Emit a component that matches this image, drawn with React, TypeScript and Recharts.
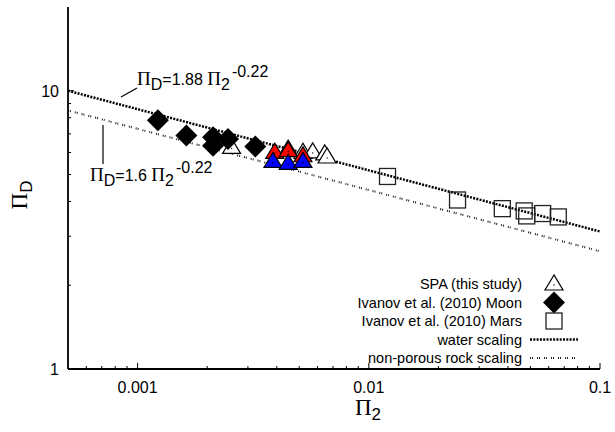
import { ComposedChart, Scatter, Line, XAxis, YAxis, Legend } from "recharts"

// Pi_2 / Pi_D values
const spaPi2 = [0.00255, 0.00448, 0.00519, 0.00572, 0.00645, 0.0066]
const spaPiD = [6.26, 6.17, 6.01, 6.03, 5.93, 5.78]
const spaRedPi2 = [0.00392, 0.00448, 0.00519]
const spaRedPiD = [6.01, 6.09, 5.84]
const spaBluePi2 = [0.00385, 0.00448, 0.00519]
const spaBluePiD = [5.57, 5.48, 5.57]
const moonPi2 = [0.001224, 0.001625, 0.00212, 0.00212, 0.00246, 0.00323]
const moonPiD = [7.83, 6.91, 6.8, 6.35, 6.71, 6.3]
const marsPi2 = [0.01205, 0.0242, 0.0378, 0.047, 0.0482, 0.0565, 0.066]
const marsPiD = [4.92, 4.05, 3.77, 3.7, 3.55, 3.62, 3.52]
// scaling lines, end points at the edges of the x range
const linePi2 = [0.0005, 0.1]
const waterPiD = [10.0, 3.12]
const rockPiD = [8.5, 2.65]

const xTicks = [
  0.0006, 0.0007, 0.0008, 0.0009, 0.001, 0.002, 0.003, 0.004, 0.005, 0.006, 0.007, 0.008, 0.009,
  0.01, 0.02, 0.03, 0.04, 0.05, 0.06, 0.07, 0.08, 0.09, 0.1,
]
const xLabelled = [0.001, 0.01, 0.1]
const yTicks = [1, 2, 3, 4, 5, 6, 7, 8, 9, 10]
const yLabelled = [1, 10]

const toPoints = (xs: number[], ys: number[]) => xs.map((x, i) => ({ x, y: ys[i] }))

const sans = "Liberation Sans, Arial, sans-serif"
const serif = "Liberation Serif, Times New Roman, serif"

const TriangleShape = (props: any) => {
  const { cx, cy, fill } = props
  return (
    <g>
      <polygon
        points={`${cx},${cy - 9} ${cx - 9},${cy + 6} ${cx + 9},${cy + 6}`}
        fill={fill}
        stroke="#000"
        strokeWidth={1.2}
      />
      <circle cx={cx} cy={cy + 1} r={0.7} fill="#000" />
    </g>
  )
}

const DiamondShape = (props: any) => {
  const { cx, cy } = props
  return <polygon points={`${cx},${cy - 11} ${cx + 11},${cy} ${cx},${cy + 11} ${cx - 11},${cy}`} fill="#000" />
}

const SquareShape = (props: any) => {
  const { cx, cy } = props
  return <rect x={cx - 8} y={cy - 8} width={16} height={16} fill="none" stroke="#222" strokeWidth={1.3} />
}

const BottomTick = (props: any) => {
  const { x, y, payload } = props
  const major = xLabelled.includes(payload.value)
  return (
    <g>
      <line x1={x} y1={y} x2={x} y2={y - (major ? 6 : 3)} stroke="#000" />
      {major && (
        <text x={x} y={y + 24} textAnchor="middle" fontSize={16} fontFamily={sans} fill="#000">
          {payload.value}
        </text>
      )}
    </g>
  )
}

const TopTick = (props: any) => {
  const { x, y, payload } = props
  const major = xLabelled.includes(payload.value)
  return <line x1={x} y1={y} x2={x} y2={y + (major ? 6 : 3)} stroke="#000" />
}

const LeftTick = (props: any) => {
  const { x, y, payload } = props
  const major = yLabelled.includes(payload.value)
  return (
    <g>
      <line x1={x} y1={y} x2={x + (major ? 6 : 3)} y2={y} stroke="#000" />
      {major && (
        <text x={x - 9} y={y + 6} textAnchor="end" fontSize={16} fontFamily={sans} fill="#000">
          {payload.value}
        </text>
      )}
    </g>
  )
}

const RightTick = (props: any) => {
  const { x, y, payload } = props
  const major = yLabelled.includes(payload.value)
  return <line x1={x} y1={y} x2={x - (major ? 6 : 3)} y2={y} stroke="#000" />
}

const legendRows = [
  { label: "SPA (this study)", kind: "triangle" },
  { label: "Ivanov et al. (2010) Moon", kind: "diamond" },
  { label: "Ivanov et al. (2010) Mars", kind: "square" },
  { label: "water scaling", kind: "water" },
  { label: "non-porous rock scaling", kind: "rock" },
]

const LegendBox = () => (
  <svg width={260} height={96}>
    {legendRows.map((r, i) => {
      const cy = 12 + i * 18.5
      return (
        <g key={r.label}>
          <text x={182} y={cy + 5} textAnchor="end" fontSize={14.5} fontFamily={sans} fill="#000">
            {r.label}
          </text>
          {r.kind === "triangle" && <TriangleShape cx={214} cy={cy} fill="#fff" />}
          {r.kind === "diamond" && <DiamondShape cx={214} cy={cy} />}
          {r.kind === "square" && <SquareShape cx={214} cy={cy} />}
          {r.kind === "water" && (
            <line x1={190} y1={cy} x2={238} y2={cy} stroke="#000" strokeWidth={2.5} strokeDasharray="2 1.3" />
          )}
          {r.kind === "rock" && (
            <line x1={190} y1={cy} x2={238} y2={cy} stroke="#222" strokeWidth={2} strokeDasharray="1 1 1 4" />
          )}
        </g>
      )
    })}
  </svg>
)

export default function App() {
  return (
    <div style={{ position: "absolute", left: 0, top: 0, width: 615, height: 432, background: "#fff" }}>
      <ComposedChart width={615} height={432} margin={{ top: 7, right: 15, bottom: 0, left: 0 }}>
        <XAxis
          xAxisId="x"
          dataKey="x"
          type="number"
          scale="log"
          domain={[0.0005, 0.1]}
          allowDataOverflow
          ticks={xTicks}
          interval={0}
          height={63}
          tickSize={0}
          tickMargin={0}
          tickLine={false}
          tick={BottomTick}
          axisLine={{ stroke: "#000", strokeWidth: 1.8 }}
        />
        <XAxis
          xAxisId="top"
          orientation="top"
          mirror
          type="number"
          scale="log"
          domain={[0.0005, 0.1]}
          allowDataOverflow
          ticks={xTicks}
          interval={0}
          height={0}
          tickSize={0}
          tickMargin={0}
          tickLine={false}
          tick={TopTick}
          axisLine={{ stroke: "#000", strokeWidth: 1.8 }}
        />
        <YAxis
          yAxisId="y"
          dataKey="y"
          type="number"
          scale="log"
          domain={[1, 20]}
          allowDataOverflow
          ticks={yTicks}
          interval={0}
          width={68}
          tickSize={0}
          tickMargin={0}
          tickLine={false}
          tick={LeftTick}
          axisLine={{ stroke: "#000", strokeWidth: 1.8 }}
        />
        <YAxis
          yAxisId="right"
          orientation="right"
          mirror
          type="number"
          scale="log"
          domain={[1, 20]}
          allowDataOverflow
          ticks={yTicks}
          interval={0}
          width={0}
          tickSize={0}
          tickMargin={0}
          tickLine={false}
          tick={RightTick}
          axisLine={{ stroke: "#000", strokeWidth: 1.8 }}
        />
        <Line
          xAxisId="x"
          yAxisId="y"
          data={toPoints(linePi2, rockPiD)}
          dataKey="y"
          stroke="#222"
          strokeWidth={2}
          strokeDasharray="1 1 1 4"
          dot={false}
          isAnimationActive={false}
        />
        <Line
          xAxisId="x"
          yAxisId="y"
          data={toPoints(linePi2, waterPiD)}
          dataKey="y"
          stroke="#000"
          strokeWidth={2.5}
          strokeDasharray="2 1.3"
          dot={false}
          isAnimationActive={false}
        />
        <Scatter xAxisId="x" yAxisId="y" data={toPoints(spaPi2, spaPiD)} fill="#fff" shape={TriangleShape} isAnimationActive={false} />
        <Scatter xAxisId="x" yAxisId="y" data={toPoints(spaRedPi2, spaRedPiD)} fill="#ff0000" shape={TriangleShape} isAnimationActive={false} />
        <Scatter xAxisId="x" yAxisId="y" data={toPoints(spaBluePi2, spaBluePiD)} fill="#0000ff" shape={TriangleShape} isAnimationActive={false} />
        <Scatter xAxisId="x" yAxisId="y" data={toPoints(moonPi2, moonPiD)} fill="#000" shape={DiamondShape} isAnimationActive={false} />
        <Scatter xAxisId="x" yAxisId="y" data={toPoints(marsPi2, marsPiD)} fill="none" shape={SquareShape} isAnimationActive={false} />
        <Legend
          layout="vertical"
          align="center"
          verticalAlign="middle"
          content={() => <LegendBox />}
          wrapperStyle={{ left: 340, top: 272, width: 260, height: 96 }}
        />
      </ComposedChart>
      <svg
        width={615}
        height={432}
        style={{ position: "absolute", left: 0, top: 0, pointerEvents: "none" }}
      >
        <line x1={121} y1={97} x2={137} y2={88} stroke="#000" strokeWidth={1.2} />
        <text x={137} y={85} fontSize={16} fontFamily={sans} fill="#000">
          <tspan fontFamily={serif} fontSize={19}>Π</tspan>
          <tspan dy={5}>D</tspan>
          <tspan dy={-5}>=1.88 </tspan>
          <tspan fontFamily={serif} fontSize={19}>Π</tspan>
          <tspan dy={5}>2</tspan>
          <tspan dy={-13} dx={2}>-0.22</tspan>
        </text>
        <line x1={103} y1={125} x2={103} y2={164} stroke="#000" strokeWidth={1.2} />
        <text x={90} y={181} fontSize={16} fontFamily={sans} fill="#000">
          <tspan fontFamily={serif} fontSize={19}>Π</tspan>
          <tspan dy={5}>D</tspan>
          <tspan dy={-5}>=1.6 </tspan>
          <tspan fontFamily={serif} fontSize={19}>Π</tspan>
          <tspan dy={5}>2</tspan>
          <tspan dy={-13} dx={2}>-0.22</tspan>
        </text>
        <text transform="rotate(-90 27 195)" x={27} y={195} textAnchor="middle" fontSize={17} fontFamily={sans} fill="#000">
          <tspan fontFamily={serif} fontSize={23}>Π</tspan>
          <tspan dy={5}>D</tspan>
        </text>
        <text x={368} y={415} textAnchor="middle" fontSize={17} fontFamily={sans} fill="#000">
          <tspan fontFamily={serif} fontSize={23}>Π</tspan>
          <tspan dy={5}>2</tspan>
        </text>
      </svg>
    </div>
  )
}
